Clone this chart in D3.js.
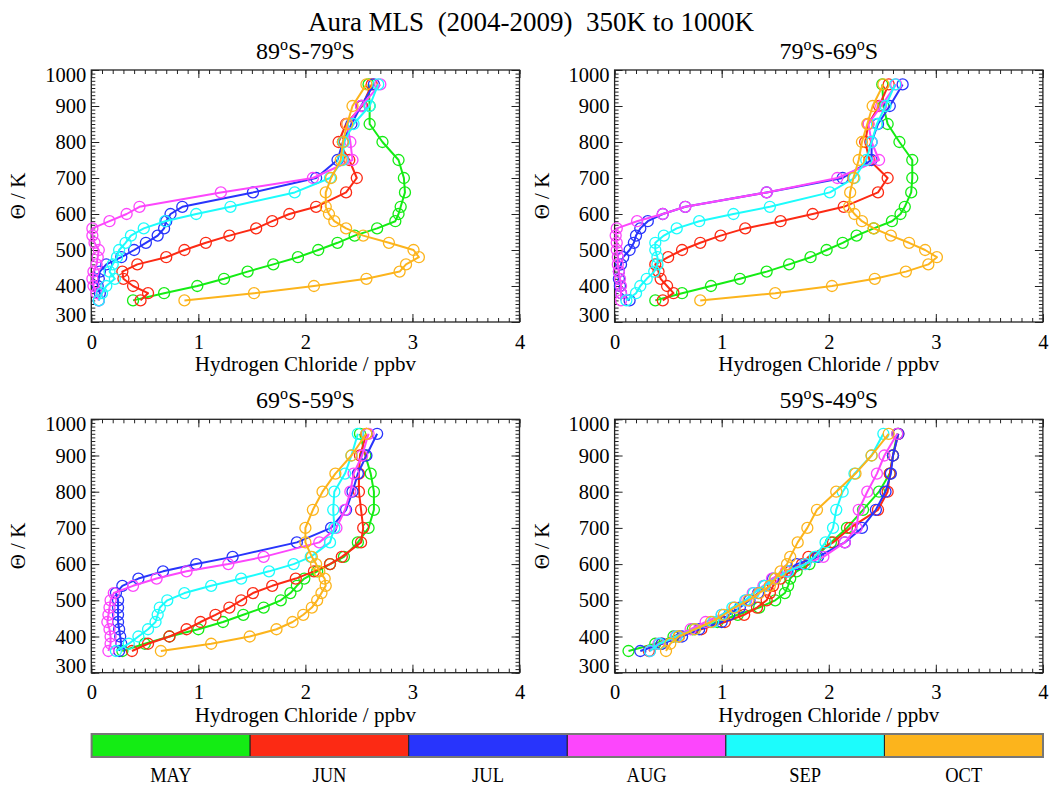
<!DOCTYPE html>
<html>
<head>
<meta charset="utf-8">
<script src="https://cdn.jsdelivr.net/npm/d3@7"></script>
<style>
  body { margin: 0; background: #fff; }
  svg text { font-family: 'Liberation Serif', 'DejaVu Serif', serif; fill: #000; }
</style>
</head>
<body>
<div id="chart"></div>
<script>
'use strict'

var months = ['MAY', 'JUN', 'JUL', 'AUG', 'SEP', 'OCT']
var monthColors = ['#14ec14', '#fc2a14', '#2834fc', '#fc46fc', '#1cfcfc', '#fcb41c']

// potential temperature levels (K)
var thetaLevels = [360, 380, 400, 420, 440, 460, 480, 500, 520, 540, 560, 580, 600, 620, 660, 700, 750, 800, 850, 900, 960]

var xTickValues = [0, 1, 2, 3, 4]
var yTickValues = [300, 400, 500, 600, 700, 800, 900, 1000]

var panelTitles = [['89', '79'], ['79', '69'], ['69', '59'], ['59', '49']]

// HCl (ppbv) per month, order MAY..OCT, one value per theta level
var hcl89to79S = [
  [0.39, 0.68, 0.99, 1.24, 1.46, 1.70, 1.93, 2.12, 2.30, 2.46, 2.67, 2.84, 2.87, 2.89, 2.93, 2.92, 2.87, 2.72, 2.60, 2.60, 2.59],
  [0.46, 0.53, 0.39, 0.30, 0.29, 0.43, 0.70, 0.87, 1.07, 1.29, 1.54, 1.69, 1.85, 2.10, 2.38, 2.48, 2.41, 2.31, 2.38, 2.53, 2.62],
  [0.07, 0.08, 0.06, 0.07, 0.08, 0.14, 0.28, 0.40, 0.51, 0.62, 0.68, 0.70, 0.74, 0.85, 1.51, 2.10, 2.30, 2.35, 2.43, 2.52, 2.64],
  [0.07, 0.05, 0.02, 0.01, 0.02, 0.05, 0.06, 0.07, 0.03, 0.01, 0.01, 0.17, 0.33, 0.45, 1.21, 2.07, 2.44, 2.42, 2.39, 2.52, 2.70],
  [0.07, 0.10, 0.14, 0.22, 0.17, 0.20, 0.24, 0.26, 0.32, 0.37, 0.49, 0.69, 0.98, 1.30, 1.90, 2.23, 2.35, 2.36, 2.45, 2.60, 2.68],
  [0.87, 1.52, 2.08, 2.57, 2.88, 2.94, 3.06, 3.01, 2.78, 2.54, 2.38, 2.27, 2.22, 2.19, 2.19, 2.24, 2.33, 2.35, 2.39, 2.44, 2.57]
]

var hcl79to69S = [
  [0.38, 0.63, 0.90, 1.17, 1.42, 1.63, 1.83, 1.98, 2.13, 2.26, 2.42, 2.59, 2.67, 2.71, 2.77, 2.78, 2.78, 2.66, 2.55, 2.51, 2.50],
  [0.45, 0.55, 0.49, 0.43, 0.41, 0.38, 0.50, 0.63, 0.80, 0.99, 1.22, 1.55, 1.85, 2.14, 2.46, 2.55, 2.38, 2.34, 2.37, 2.47, 2.56],
  [0.14, 0.06, 0.05, 0.04, 0.04, 0.06, 0.08, 0.14, 0.18, 0.20, 0.24, 0.31, 0.45, 0.66, 1.42, 2.13, 2.40, 2.40, 2.46, 2.57, 2.69],
  [0.06, 0.06, 0.06, 0.05, 0.04, 0.03, 0.03, 0.02, 0.02, 0.01, 0.02, 0.21, 0.45, 0.66, 1.42, 2.08, 2.47, 2.40, 2.37, 2.49, 2.63],
  [0.11, 0.20, 0.24, 0.30, 0.37, 0.40, 0.40, 0.38, 0.38, 0.46, 0.58, 0.79, 1.11, 1.45, 2.01, 2.24, 2.35, 2.40, 2.45, 2.53, 2.62],
  [0.80, 1.50, 2.03, 2.43, 2.72, 2.93, 3.01, 2.90, 2.75, 2.58, 2.42, 2.31, 2.24, 2.19, 2.20, 2.23, 2.28, 2.31, 2.36, 2.41, 2.51]
]

var hcl69to59S = [
  [0.29, 0.50, 0.73, 1.00, 1.23, 1.42, 1.61, 1.77, 1.86, 1.92, 1.99, 2.11, 2.23, 2.36, 2.49, 2.59, 2.64, 2.64, 2.61, 2.56, 2.51],
  [0.38, 0.53, 0.73, 0.89, 1.02, 1.16, 1.29, 1.40, 1.51, 1.69, 1.91, 2.08, 2.23, 2.34, 2.52, 2.54, 2.52, 2.50, 2.50, 2.51, 2.57],
  [0.26, 0.28, 0.27, 0.26, 0.25, 0.25, 0.25, 0.25, 0.23, 0.29, 0.44, 0.67, 0.98, 1.32, 1.92, 2.24, 2.38, 2.44, 2.49, 2.57, 2.67],
  [0.16, 0.18, 0.18, 0.17, 0.15, 0.16, 0.17, 0.18, 0.21, 0.39, 0.61, 0.89, 1.28, 1.61, 2.13, 2.29, 2.37, 2.42, 2.45, 2.53, 2.59],
  [0.23, 0.35, 0.44, 0.53, 0.60, 0.62, 0.64, 0.71, 0.87, 1.12, 1.40, 1.66, 1.89, 2.05, 2.23, 2.27, 2.26, 2.27, 2.37, 2.43, 2.49],
  [0.65, 1.12, 1.48, 1.73, 1.88, 1.98, 2.06, 2.11, 2.15, 2.19, 2.18, 2.13, 2.10, 2.06, 2.00, 2.00, 2.07, 2.16, 2.28, 2.43, 2.57]
]

var hcl59to49S = [
  [0.13, 0.38, 0.55, 0.73, 0.96, 1.15, 1.35, 1.50, 1.59, 1.62, 1.64, 1.70, 1.82, 1.88, 2.02, 2.17, 2.32, 2.47, 2.57, 2.60, 2.64],
  [0.32, 0.44, 0.60, 0.81, 1.03, 1.21, 1.33, 1.42, 1.45, 1.48, 1.55, 1.64, 1.75, 1.81, 2.04, 2.20, 2.46, 2.55, 2.57, 2.60, 2.65],
  [0.24, 0.44, 0.63, 0.79, 1.00, 1.07, 1.17, 1.26, 1.34, 1.40, 1.48, 1.61, 1.70, 1.90, 2.15, 2.31, 2.44, 2.53, 2.58, 2.60, 2.65],
  [0.33, 0.41, 0.57, 0.71, 0.85, 1.00, 1.12, 1.23, 1.29, 1.39, 1.47, 1.60, 1.78, 1.95, 2.15, 2.26, 2.28, 2.36, 2.45, 2.52, 2.64],
  [0.33, 0.42, 0.58, 0.75, 0.92, 1.00, 1.10, 1.22, 1.30, 1.40, 1.50, 1.62, 1.78, 1.87, 1.97, 2.04, 2.07, 2.13, 2.24, 2.40, 2.51],
  [0.48, 0.52, 0.60, 0.75, 0.90, 1.02, 1.12, 1.25, 1.35, 1.45, 1.50, 1.55, 1.61, 1.64, 1.71, 1.80, 1.89, 2.07, 2.25, 2.40, 2.56]
]

var panelData = [hcl89to79S, hcl79to69S, hcl69to59S, hcl59to49S]

var serif = "'Liberation Serif', 'DejaVu Serif', serif"
var width = 1050
var height = 787

var svg = d3
  .select('#chart')
  .append('svg')
  .attr('width', width)
  .attr('height', height)

svg
  .append('text')
  .attr('x', 531)
  .attr('y', 31)
  .attr('text-anchor', 'middle')
  .style('font-family', serif)
  .style('font-size', '27px')
  .style('white-space', 'pre')
  .text('Aura MLS  (2004-2009)  350K to 1000K')

var panelBoxes = [
  { left: 91.3, right: 519.5, top: 70, bottom: 322 },
  { left: 614.6, right: 1042.9, top: 70, bottom: 322 },
  { left: 91.3, right: 519.5, top: 419.3, bottom: 672.7 },
  { left: 614.6, right: 1042.9, top: 419.3, bottom: 672.7 }
]

panelBoxes.forEach(function(box, i) {
  drawPanel(box, panelTitles[i], panelData[i])
})

drawLegend()

function drawPanel(box, title, series) {
  var x = d3.scaleLinear().domain([0, 4]).range([box.left, box.right])
  var y = d3.scaleLinear().domain([300, 1000]).range([box.bottom, box.top])
  var g = svg.append('g')

  var xMinor = d3.range(0, 4.001, 0.1)
  var yMinor = d3.range(300, 1001, 10)

  // minor ticks on all four sides, pointing inward
  g.append('g')
    .attr('transform', 'translate(0,' + box.bottom + ')')
    .call(d3.axisBottom(x).tickValues(xMinor).tickSize(-4).tickFormat(''))
  g.append('g')
    .attr('transform', 'translate(0,' + box.top + ')')
    .call(d3.axisTop(x).tickValues(xMinor).tickSize(-4).tickFormat(''))
  g.append('g')
    .attr('transform', 'translate(' + box.left + ',0)')
    .call(d3.axisLeft(y).tickValues(yMinor).tickSize(-4).tickFormat(''))
  g.append('g')
    .attr('transform', 'translate(' + box.right + ',0)')
    .call(d3.axisRight(y).tickValues(yMinor).tickSize(-4).tickFormat(''))

  // major ticks + labels
  g.append('g')
    .attr('class', 'x axis')
    .attr('transform', 'translate(0,' + box.bottom + ')')
    .call(d3.axisBottom(x).tickValues(xTickValues).tickSize(-8).tickPadding(12).tickFormat(d3.format('d')))
  g.append('g')
    .attr('transform', 'translate(0,' + box.top + ')')
    .call(d3.axisTop(x).tickValues(xTickValues).tickSize(-8).tickFormat(''))
  var yAxisG = g.append('g')
    .attr('class', 'y axis')
    .attr('transform', 'translate(' + box.left + ',0)')
    .call(d3.axisLeft(y).tickValues(yTickValues).tickSize(-8).tickPadding(5).tickFormat(d3.format('d')))
  g.append('g')
    .attr('transform', 'translate(' + box.right + ',0)')
    .call(d3.axisRight(y).tickValues(yTickValues).tickSize(-8).tickFormat(''))

  // end labels sit inside the frame like the IDL output
  yAxisG.selectAll('text').attr('y', function(d) {
    if (d === 1000) return 5
    if (d === 300) return -7
    return 0
  })

  g.selectAll('.domain').remove()
  g.selectAll('.tick line').attr('stroke', '#222').attr('stroke-width', 1)
  g.selectAll('.axis text')
    .style('font-family', serif)
    .style('font-size', '20.5px')
    .attr('fill', '#000')

  g.append('rect')
    .attr('x', box.left)
    .attr('y', box.top)
    .attr('width', box.right - box.left)
    .attr('height', box.bottom - box.top)
    .attr('fill', 'none')
    .attr('stroke', '#222')
    .attr('stroke-width', 1.3)

  var cx = (box.left + box.right) / 2
  var cy = (box.top + box.bottom) / 2

  var t = g.append('text')
    .attr('x', cx)
    .attr('y', box.top - 11)
    .attr('text-anchor', 'middle')
    .style('font-family', serif)
    .style('font-size', '24px')
  t.append('tspan').text(title[0])
  t.append('tspan').attr('dy', -9).style('font-size', '16px').text('o')
  t.append('tspan').attr('dy', 9).text('S-' + title[1])
  t.append('tspan').attr('dy', -9).style('font-size', '16px').text('o')
  t.append('tspan').attr('dy', 9).text('S')

  g.append('text')
    .attr('x', cx)
    .attr('y', box.bottom + 49)
    .attr('text-anchor', 'middle')
    .style('font-family', serif)
    .style('font-size', '21px')
    .text('Hydrogen Chloride / ppbv')

  g.append('text')
    .attr('transform', 'translate(' + (box.left - 66) + ',' + cy + ') rotate(-90)')
    .attr('text-anchor', 'middle')
    .style('font-family', serif)
    .style('font-size', '21px')
    .text('\u0398 / K')

  var line = d3
    .line()
    .x(function(d) {
      return x(d)
    })
    .y(function(d, i) {
      return y(thetaLevels[i])
    })

  series.forEach(function(values, k) {
    g.append('path')
      .datum(values)
      .attr('d', line)
      .attr('fill', 'none')
      .attr('stroke', monthColors[k])
      .attr('stroke-width', 2)
      .attr('stroke-linejoin', 'round')

    g.selectAll('.m' + k)
      .data(values)
      .enter()
      .append('circle')
      .attr('cx', function(d) {
        return x(d)
      })
      .attr('cy', function(d, i) {
        return y(thetaLevels[i])
      })
      .attr('r', 5.5)
      .attr('fill', 'none')
      .attr('stroke', monthColors[k])
      .attr('stroke-width', 1.3)
  })
}

function drawLegend() {
  var band = d3
    .scaleBand()
    .domain(months)
    .range([91.6, 1043])

  var lg = svg.append('g')

  lg.selectAll('rect.seg')
    .data(months)
    .enter()
    .append('rect')
    .attr('class', 'seg')
    .attr('x', function(d) {
      return band(d)
    })
    .attr('y', 734)
    .attr('width', band.bandwidth())
    .attr('height', 23)
    .attr('fill', function(d, i) {
      return monthColors[i]
    })
    .attr('stroke', '#222')
    .attr('stroke-width', 1)

  lg.append('rect')
    .attr('x', 91.6)
    .attr('y', 734)
    .attr('width', 1043 - 91.6)
    .attr('height', 23)
    .attr('fill', 'none')
    .attr('stroke', '#777')
    .attr('stroke-width', 2)

  lg.selectAll('text')
    .data(months)
    .enter()
    .append('text')
    .attr('transform', function(d) {
      return 'translate(' + (band(d) + band.bandwidth() / 2) + ',782) scale(0.88,1)'
    })
    .attr('text-anchor', 'middle')
    .style('font-family', serif)
    .style('font-size', '21px')
    .text(function(d) {
      return d
    })
}
</script>
</body>
</html>
